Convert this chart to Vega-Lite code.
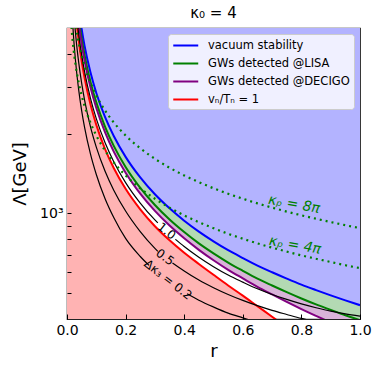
{
"$schema": "https://vega.github.io/schema/vega-lite/v6.json",
"width": 293, "height": 291,
"autosize": {"type": "none"},
"padding": {"left": 67, "top": 28, "right": 22, "bottom": 54},
"config": {"font": "DejaVu Sans", "view": {"stroke": "#222222", "strokeWidth": 1.2}},
"title": {"text": "κ₀ = 4", "fontSize": 15, "fontWeight": "normal", "offset": 7, "color": "black", "font": "DejaVu Sans"},
"datasets": {"curves": [
{"c":"vacuum stability","r":0.03,"L":7455},{"c":"vacuum stability","r":0.04,"L":5922},{"c":"vacuum stability","r":0.05,"L":4957},{"c":"vacuum stability","r":0.06,"L":4281},{"c":"vacuum stability","r":0.08,"L":3402},{"c":"vacuum stability","r":0.1,"L":2846},{"c":"vacuum stability","r":0.13,"L":2307},{"c":"vacuum stability","r":0.16,"L":1954},{"c":"vacuum stability","r":0.2,"L":1634},{"c":"vacuum stability","r":0.25,"L":1367},{"c":"vacuum stability","r":0.3,"L":1181},{"c":"vacuum stability","r":0.35,"L":1045},{"c":"vacuum stability","r":0.4,"L":939},{"c":"vacuum stability","r":0.45,"L":854},{"c":"vacuum stability","r":0.5,"L":785},{"c":"vacuum stability","r":0.55,"L":727},{"c":"vacuum stability","r":0.6,"L":679},{"c":"vacuum stability","r":0.65,"L":636},{"c":"vacuum stability","r":0.7,"L":600},{"c":"vacuum stability","r":0.75,"L":568},{"c":"vacuum stability","r":0.8,"L":539},{"c":"vacuum stability","r":0.85,"L":514},{"c":"vacuum stability","r":0.9,"L":491},{"c":"vacuum stability","r":0.95,"L":470},{"c":"vacuum stability","r":1.0,"L":451},
{"c":"GWs detected @LISA","r":0.03,"L":6891},{"c":"GWs detected @LISA","r":0.04,"L":5471},{"c":"GWs detected @LISA","r":0.05,"L":4577},{"c":"GWs detected @LISA","r":0.06,"L":3951},{"c":"GWs detected @LISA","r":0.08,"L":3136},{"c":"GWs detected @LISA","r":0.1,"L":2621},{"c":"GWs detected @LISA","r":0.13,"L":2121},{"c":"GWs detected @LISA","r":0.16,"L":1793},{"c":"GWs detected @LISA","r":0.2,"L":1496},{"c":"GWs detected @LISA","r":0.25,"L":1248},{"c":"GWs detected @LISA","r":0.3,"L":1076},{"c":"GWs detected @LISA","r":0.35,"L":949},{"c":"GWs detected @LISA","r":0.4,"L":851},{"c":"GWs detected @LISA","r":0.45,"L":771},{"c":"GWs detected @LISA","r":0.5,"L":707},{"c":"GWs detected @LISA","r":0.55,"L":653},{"c":"GWs detected @LISA","r":0.6,"L":608},{"c":"GWs detected @LISA","r":0.65,"L":568},{"c":"GWs detected @LISA","r":0.7,"L":535},{"c":"GWs detected @LISA","r":0.75,"L":505},{"c":"GWs detected @LISA","r":0.8,"L":478},{"c":"GWs detected @LISA","r":0.85,"L":454},{"c":"GWs detected @LISA","r":0.9,"L":433},{"c":"GWs detected @LISA","r":0.95,"L":413},{"c":"GWs detected @LISA","r":1.0,"L":396},
{"c":"GWs detected @DECIGO","r":0.03,"L":6563},{"c":"GWs detected @DECIGO","r":0.04,"L":5210},{"c":"GWs detected @DECIGO","r":0.05,"L":4359},{"c":"GWs detected @DECIGO","r":0.06,"L":3763},{"c":"GWs detected @DECIGO","r":0.08,"L":2987},{"c":"GWs detected @DECIGO","r":0.1,"L":2496},{"c":"GWs detected @DECIGO","r":0.13,"L":2020},{"c":"GWs detected @DECIGO","r":0.16,"L":1707},{"c":"GWs detected @DECIGO","r":0.2,"L":1424},{"c":"GWs detected @DECIGO","r":0.25,"L":1187},{"c":"GWs detected @DECIGO","r":0.3,"L":1022},{"c":"GWs detected @DECIGO","r":0.35,"L":900},{"c":"GWs detected @DECIGO","r":0.4,"L":806},{"c":"GWs detected @DECIGO","r":0.45,"L":729},{"c":"GWs detected @DECIGO","r":0.5,"L":666},{"c":"GWs detected @DECIGO","r":0.55,"L":613},{"c":"GWs detected @DECIGO","r":0.6,"L":569},{"c":"GWs detected @DECIGO","r":0.65,"L":529},{"c":"GWs detected @DECIGO","r":0.7,"L":495},{"c":"GWs detected @DECIGO","r":0.75,"L":464},{"c":"GWs detected @DECIGO","r":0.8,"L":436},{"c":"GWs detected @DECIGO","r":0.85,"L":411},{"c":"GWs detected @DECIGO","r":0.9,"L":388},{"c":"GWs detected @DECIGO","r":0.95,"L":367},{"c":"GWs detected @DECIGO","r":1.0,"L":350},
{"c":"vₙ/Tₙ = 1","r":0,"L":100000},{"c":"vₙ/Tₙ = 1","r":0.01,"L":13600},{"c":"vₙ/Tₙ = 1","r":0.02,"L":7814},{"c":"vₙ/Tₙ = 1","r":0.03,"L":5648},{"c":"vₙ/Tₙ = 1","r":0.04,"L":4486},{"c":"vₙ/Tₙ = 1","r":0.05,"L":3755},{"c":"vₙ/Tₙ = 1","r":0.06,"L":3243},{"c":"vₙ/Tₙ = 1","r":0.08,"L":2577},{"c":"vₙ/Tₙ = 1","r":0.1,"L":2156},{"c":"vₙ/Tₙ = 1","r":0.13,"L":1748},{"c":"vₙ/Tₙ = 1","r":0.16,"L":1480},{"c":"vₙ/Tₙ = 1","r":0.2,"L":1238},{"c":"vₙ/Tₙ = 1","r":0.25,"L":1036},{"c":"vₙ/Tₙ = 1","r":0.3,"L":895},{"c":"vₙ/Tₙ = 1","r":0.35,"L":792},{"c":"vₙ/Tₙ = 1","r":0.4,"L":711},{"c":"vₙ/Tₙ = 1","r":0.45,"L":645},{"c":"vₙ/Tₙ = 1","r":0.5,"L":587},{"c":"vₙ/Tₙ = 1","r":0.55,"L":535},{"c":"vₙ/Tₙ = 1","r":0.6,"L":490},{"c":"vₙ/Tₙ = 1","r":0.65,"L":447},{"c":"vₙ/Tₙ = 1","r":0.7,"L":408},{"c":"vₙ/Tₙ = 1","r":0.75,"L":372},
{"c":"k1a","r":0.02,"L":8251},{"c":"k1a","r":0.03,"L":5964},{"c":"k1a","r":0.04,"L":4738},{"c":"k1a","r":0.05,"L":3966},{"c":"k1a","r":0.06,"L":3425},{"c":"k1a","r":0.08,"L":2722},{"c":"k1a","r":0.1,"L":2277},{"c":"k1a","r":0.13,"L":1846},{"c":"k1a","r":0.16,"L":1563},{"c":"k1a","r":0.2,"L":1307},{"c":"k1a","r":0.25,"L":1094},{"c":"k1a","r":0.3,"L":945},{"c":"k1a","r":0.31,"L":921},
{"c":"k1b","r":0.37,"L":799},{"c":"k1b","r":0.4,"L":751},{"c":"k1b","r":0.45,"L":684},{"c":"k1b","r":0.5,"L":630},{"c":"k1b","r":0.55,"L":586},{"c":"k1b","r":0.6,"L":551},{"c":"k1b","r":0.65,"L":520},{"c":"k1b","r":0.7,"L":495},{"c":"k1b","r":0.75,"L":474},{"c":"k1b","r":0.8,"L":456},{"c":"k1b","r":0.85,"L":441},{"c":"k1b","r":0.9,"L":428},{"c":"k1b","r":0.95,"L":418},{"c":"k1b","r":1.0,"L":410},
{"c":"k05a","r":0.01,"L":11219},{"c":"k05a","r":0.02,"L":6446},{"c":"k05a","r":0.03,"L":4659},{"c":"k05a","r":0.04,"L":3701},{"c":"k05a","r":0.05,"L":3098},{"c":"k05a","r":0.06,"L":2676},{"c":"k05a","r":0.08,"L":2126},{"c":"k05a","r":0.1,"L":1779},{"c":"k05a","r":0.13,"L":1442},{"c":"k05a","r":0.16,"L":1221},{"c":"k05a","r":0.2,"L":1021},{"c":"k05a","r":0.25,"L":854},{"c":"k05a","r":0.3,"L":738},{"c":"k05a","r":0.31,"L":719},
{"c":"k05b","r":0.36,"L":651},{"c":"k05b","r":0.4,"L":607},{"c":"k05b","r":0.45,"L":561},{"c":"k05b","r":0.5,"L":525},{"c":"k05b","r":0.55,"L":495},{"c":"k05b","r":0.6,"L":470},{"c":"k05b","r":0.65,"L":449},{"c":"k05b","r":0.7,"L":431},{"c":"k05b","r":0.75,"L":416},{"c":"k05b","r":0.8,"L":402},{"c":"k05b","r":0.85,"L":391},
{"c":"k02a","r":0.01,"L":8842},{"c":"k02a","r":0.02,"L":5081},{"c":"k02a","r":0.03,"L":3672},{"c":"k02a","r":0.04,"L":2917},{"c":"k02a","r":0.05,"L":2442},{"c":"k02a","r":0.06,"L":2109},{"c":"k02a","r":0.08,"L":1676},{"c":"k02a","r":0.1,"L":1402},{"c":"k02a","r":0.13,"L":1136},{"c":"k02a","r":0.16,"L":963},{"c":"k02a","r":0.2,"L":805},{"c":"k02a","r":0.25,"L":688},{"c":"k02a","r":0.28,"L":637},
{"c":"k02b","r":0.41,"L":498},{"c":"k02b","r":0.45,"L":471},{"c":"k02b","r":0.5,"L":444},{"c":"k02b","r":0.55,"L":421},{"c":"k02b","r":0.6,"L":404},{"c":"k02b","r":0.65,"L":388},
{"c":"p4","r":0.01,"L":6220},{"c":"p4","r":0.015,"L":5079},{"c":"p4","r":0.02,"L":4398},{"c":"p4","r":0.03,"L":3591},{"c":"p4","r":0.04,"L":3110},{"c":"p4","r":0.05,"L":2782},{"c":"p4","r":0.06,"L":2539},{"c":"p4","r":0.08,"L":2199},{"c":"p4","r":0.1,"L":1967},{"c":"p4","r":0.13,"L":1725},{"c":"p4","r":0.16,"L":1555},{"c":"p4","r":0.2,"L":1391},{"c":"p4","r":0.25,"L":1244},{"c":"p4","r":0.3,"L":1136},{"c":"p4","r":0.35,"L":1051},{"c":"p4","r":0.4,"L":983},{"c":"p4","r":0.45,"L":927},{"c":"p4","r":0.5,"L":880},{"c":"p4","r":0.55,"L":838},{"c":"p4","r":0.6,"L":803},{"c":"p4","r":0.65,"L":771},{"c":"p4","r":0.7,"L":743},{"c":"p4","r":0.75,"L":718},{"c":"p4","r":0.8,"L":695},{"c":"p4","r":0.85,"L":675},{"c":"p4","r":0.9,"L":656},{"c":"p4","r":0.95,"L":638},{"c":"p4","r":1.0,"L":622},
{"c":"p8","r":0.02,"L":6222},{"c":"p8","r":0.03,"L":5081},{"c":"p8","r":0.04,"L":4400},{"c":"p8","r":0.05,"L":3935},{"c":"p8","r":0.06,"L":3592},{"c":"p8","r":0.08,"L":3112},{"c":"p8","r":0.1,"L":2783},{"c":"p8","r":0.13,"L":2441},{"c":"p8","r":0.16,"L":2200},{"c":"p8","r":0.2,"L":1968},{"c":"p8","r":0.25,"L":1760},{"c":"p8","r":0.3,"L":1607},{"c":"p8","r":0.35,"L":1487},{"c":"p8","r":0.4,"L":1391},{"c":"p8","r":0.45,"L":1312},{"c":"p8","r":0.5,"L":1244},{"c":"p8","r":0.55,"L":1186},{"c":"p8","r":0.6,"L":1136},{"c":"p8","r":0.65,"L":1091},{"c":"p8","r":0.7,"L":1052},{"c":"p8","r":0.75,"L":1016},{"c":"p8","r":0.8,"L":984},{"c":"p8","r":0.85,"L":955},{"c":"p8","r":0.9,"L":928},{"c":"p8","r":0.95,"L":903},{"c":"p8","r":1.0,"L":880}
]},
"data": {"name": "curves"},
"encoding": {
  "x": {"field": "r", "type": "quantitative", "scale": {"domain": [0, 1], "nice": false, "zero": false},
        "axis": {"title": "r", "values": [0, 0.2, 0.4, 0.6, 0.8, 1], "format": ".1f", "zindex": 1, "tickSize": -5, "tickWidth": 1, "tickColor": "black", "labelPadding": 9, "labelFontSize": 14, "labelColor": "black", "labelFlush": false, "labelOverlap": false, "titleFontSize": 18, "titleFontWeight": "normal", "titleColor": "black", "titlePadding": 5, "domain": false, "grid": false}},
  "y": {"field": "L", "type": "quantitative", "scale": {"type": "log", "domain": [400, 5000], "nice": false},
        "axis": {"title": "Λ[GeV]", "values": [500, 600, 700, 800, 900, 1000, 2000, 3000, 4000], "labelExpr": "datum.value == 1000 ? '10³' : ''", "zindex": 1, "tickSize": -4, "tickWidth": 1, "tickColor": "black", "labelPadding": 8, "labelFontSize": 14, "labelColor": "black", "labelOverlap": false, "titleFontSize": 18, "titleFontWeight": "normal", "titleColor": "black", "titlePadding": 10, "domain": false, "grid": false}}
},
"layer": [
  {"transform": [{"filter": "datum.c == 'vₙ/Tₙ = 1'"}], "mark": {"type": "area", "color": "#ffb3b3", "interpolate": "monotone", "clip": true}, "encoding": {"y2": {"datum": 400}}},
  {"transform": [{"filter": "datum.c == 'GWs detected @DECIGO'"}], "mark": {"type": "area", "color": "#d9b3d9", "interpolate": "monotone", "clip": true}, "encoding": {"y2": {"datum": 5000}}},
  {"transform": [{"filter": "datum.c == 'GWs detected @LISA'"}], "mark": {"type": "area", "color": "#b3d9b3", "interpolate": "monotone", "clip": true}, "encoding": {"y2": {"datum": 5000}}},
  {"transform": [{"filter": "datum.c == 'vacuum stability'"}], "mark": {"type": "area", "color": "#b3b3ff", "interpolate": "monotone", "clip": true}, "encoding": {"y2": {"datum": 5000}}},
  {"transform": [{"filter": "datum.c == 'vacuum stability' || datum.c == 'GWs detected @LISA' || datum.c == 'GWs detected @DECIGO' || datum.c == 'vₙ/Tₙ = 1'"}],
   "mark": {"type": "line", "strokeWidth": 2, "interpolate": "monotone", "clip": true},
   "encoding": {"color": {"field": "c", "type": "nominal",
      "scale": {"domain": ["vacuum stability", "GWs detected @LISA", "GWs detected @DECIGO", "vₙ/Tₙ = 1"], "range": ["#0000ff", "#008000", "#800080", "#ff0000"]},
      "legend": {"title": null, "orient": "top-right", "offset": 6, "fillColor": "rgba(255,255,255,0.8)", "strokeColor": "#cccccc", "cornerRadius": 3, "padding": 4, "labelFontSize": 11.5, "labelFont": "DejaVu Sans", "labelColor": "black", "symbolType": "M-1,0H3", "symbolStrokeWidth": 2, "symbolSize": 156, "rowPadding": 5, "labelOffset": 21, "labelLimit": 300}}}},
  {"transform": [{"filter": "indexof(datum.c, 'k') == 0"}], "mark": {"type": "line", "color": "black", "strokeWidth": 1.2, "interpolate": "monotone", "clip": true}, "encoding": {"detail": {"field": "c"}}},
  {"transform": [{"filter": "indexof(datum.c, 'p') == 0"}], "mark": {"type": "line", "color": "#008000", "strokeWidth": 2.2, "strokeDash": [2, 4], "interpolate": "monotone", "clip": true}, "encoding": {"detail": {"field": "c"}}},
  {"data": {"values": [{"t": "κₚ = 8π", "r": 0.775, "L": 1081}, {"t": "κₚ = 4π", "r": 0.778, "L": 758}]}, "mark": {"type": "text", "color": "#008000", "fontSize": 14, "fontStyle": "italic", "angle": 10, "align": "center", "baseline": "middle"}, "encoding": {"text": {"field": "t"}}},
  {"data": {"values": [{"t": "1.0", "r": 0.34, "L": 858}]}, "mark": {"type": "text", "color": "black", "fontSize": 12, "angle": 38, "align": "center", "baseline": "middle"}, "encoding": {"text": {"field": "t"}}},
  {"data": {"values": [{"t": "0.5", "r": 0.335, "L": 684}]}, "mark": {"type": "text", "color": "black", "fontSize": 12, "angle": 36, "align": "center", "baseline": "middle"}, "encoding": {"text": {"field": "t"}}},
  {"data": {"values": [{"t": "Δκ₃ = 0.2", "r": 0.345, "L": 563}]}, "mark": {"type": "text", "color": "black", "fontSize": 12, "angle": 38, "align": "center", "baseline": "middle"}, "encoding": {"text": {"field": "t"}}}
]
}
